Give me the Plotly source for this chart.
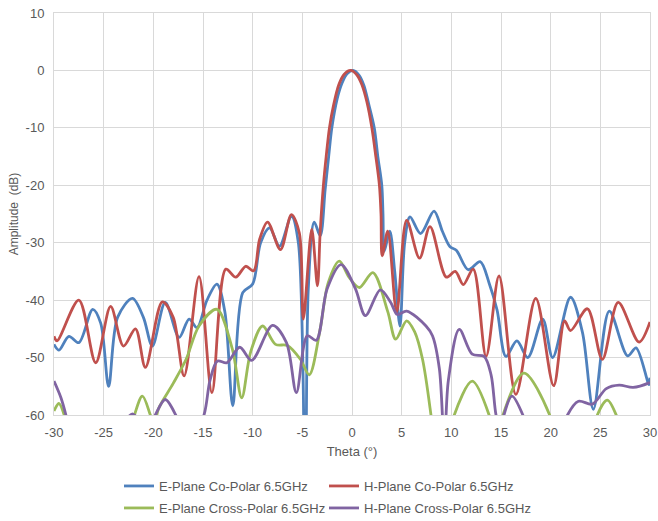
import plotly.graph_objects as go

# ---- data ----
e_co_theta = [-30, -29.5, -28.5, -27.5, -26.1, -25.3, -24.5, -23.6, -22.1, -21.0, -20.1, -18.8,
              -17.4, -16.4, -15.6, -14.6, -13.6, -12.8, -12.0, -11.0, -10.0, -9.2, -8.3, -7.3,
              -6.1, -5.4, -4.7, -4.4, -3.8, -3.2, -2.7, -2.35, -2.03, -1.5, -1.0, -0.5, 0.1, 0.7, 1.2,
              1.7, 2.24, 2.6, 3.0, 3.12, 3.25, 3.8, 4.3, 4.83, 5.3, 5.84, 6.9, 8.26, 9.1, 9.87, 10.5,
              11.7, 12.9, 13.8, 14.6, 15.5, 16.6, 17.7, 19.2, 20.2, 22.0, 23.2, 24.3, 25.9,
              27.75, 28.6, 29.9, 30]
e_co_db = [-47.7, -48.7, -46.3, -47.4, -41.6, -44.0, -55.0, -43.0, -39.7, -43.0, -48.0, -40.4,
           -46.5, -43.3, -44.8, -40.0, -37.2, -42.0, -58.4, -38.7, -37.2, -30.0, -27.4, -30.6,
           -25.4, -30.0, -75.0, -38.0, -26.4, -28.8, -20.7, -15.0, -10.0, -5.0, -2.2, -0.6, 0.0, -0.8, -2.6,
           -6.0, -10.0, -15.0, -20.0, -25.0, -31.5, -28.0, -35.0, -44.5, -30.0, -25.5, -28.4, -24.5, -28.0, -30.7, -31.3,
           -34.7, -33.3, -37.0, -41.7, -49.8, -47.1, -50.0, -43.3, -50.0, -39.5, -45.6, -59.0, -41.9,
           -49.7, -48.3, -54.7, -53.5]

h_co_theta = [-30, -29.7, -27.5, -25.8, -24.3, -23.0, -21.8, -20.8, -19.1, -18.0, -16.9, -15.4,
              -14.1, -12.7, -11.7, -10.7, -9.9, -9.3, -8.5, -7.2, -6.1, -5.3, -4.9, -4.05, -3.48,
              -3.2, -2.88, -2.6, -2.27, -1.85, -1.33, -0.8, -0.15, 0.5, 1.0, 1.5, 2.0, 2.4, 2.76, 2.92, 3.04,
              3.6, 4.5, 5.5, 6.8, 7.85, 9.5, 10.4, 11.2, 12.2, 13.5, 14.8, 16.5, 18.5, 20.3, 21.4,
              22.0, 23.7, 25.2, 26.8, 28.9, 30]
h_co_db = [-46.3, -47.1, -40.0, -50.9, -41.1, -48.0, -45.0, -51.7, -40.3, -43.0, -53.2, -35.9,
           -56.1, -34.6, -36.0, -34.1, -34.9, -29.4, -26.4, -31.2, -25.1, -28.3, -43.3, -27.7, -37.5,
           -28.0, -20.0, -15.0, -10.0, -6.0, -2.5, -0.7, 0.0, -0.8, -2.5, -5.5, -10.0, -15.0, -20.0, -25.0, -32.3,
           -28.0, -42.1, -26.1, -32.7, -27.2, -36.0, -35.0, -37.3, -34.6, -49.8, -35.8, -56.4, -39.7, -54.9, -43.6,
           -45.3, -41.5, -50.3, -40.4, -47.3, -43.8]

e_x_theta = [-30, -29.5, -28.8, -28.3, -25.0, -22.1, -21.1, -20.3, -19.9, -19.5, -18.0, -16.7,
             -15.4, -13.6, -12.05, -11.1, -10.2, -9.0, -7.7, -6.5, -5.2, -4.3, -3.2, -2.4, -1.28,
             -0.3, 0.74, 2.1, 3.6, 4.4, 5.5, 6.3, 7.1, 7.95, 8.5, 10.0, 10.3, 12.1, 13.8, 14.5,
             15.2, 17.3, 19.9, 21.0, 24.0, 24.7, 25.7, 26.6, 27.5, 30]
e_x_db = [-59.3, -58.0, -61.0, -65.0, -75.0, -61.0, -56.7, -60.0, -62.0, -59.0, -54.5, -50.3,
          -44.5, -41.6, -48.5, -57.0, -49.0, -44.5, -47.7, -47.9, -50.3, -53.0, -45.0, -37.0, -33.2,
          -36.0, -37.8, -35.2, -42.0, -46.8, -43.6, -45.5, -50.3, -60.0, -68.0, -63.0, -60.0, -54.1, -60.0, -66.0,
          -60.0, -52.7, -60.0, -68.0, -66.0, -60.0, -57.4, -60.0, -66.0, -70.0]

h_x_theta = [-30, -29.3, -28.8, -28.0, -25.0, -22.8, -22.1, -21.4, -20.5, -19.8, -18.8, -17.75,
             -16.5, -14.9, -14.3, -13.55, -12.6, -11.3, -10.1, -8.0, -6.6, -5.6, -4.5, -3.6, -2.5,
             -1.1, 0.34, 1.35, 2.85, 3.9, 4.56, 5.5, 7.45, 8.1, 8.8, 9.3, 9.7, 10.8, 12.1, 13.3,
             14.0, 14.5, 15.0, 15.3, 16.1, 17.2, 18.0, 21.0, 21.7, 22.8, 24.2, 25.6, 26.9, 28.3,
             29.9, 30]
h_x_db = [-54.1, -57.0, -60.0, -66.0, -70.0, -61.0, -59.8, -61.0, -63.0, -60.0, -57.3, -60.0,
          -66.0, -60.0, -54.0, -50.6, -50.9, -48.2, -50.5, -44.4, -47.4, -56.1, -46.2, -47.0, -38.0,
          -33.8, -38.0, -42.7, -38.2, -40.4, -42.5, -41.9, -44.5, -46.2, -52.0, -65.0, -54.0, -45.1, -49.4, -49.8,
          -53.0, -60.0, -63.0, -60.0, -56.7, -60.0, -65.0, -64.0, -60.0, -57.6, -58.1, -55.4, -54.8, -55.2,
          -54.4, -54.3]

series_names = ["E-Plane Co-Polar 6.5GHz", "H-Plane Co-Polar 6.5GHz",
                "E-Plane Cross-Polar 6.5GHz", "H-Plane Cross-Polar 6.5GHz"]
series_colors = ["#4F81BD", "#C0504D", "#9BBB59", "#8064A2"]
series_legends = ["legend", "legend2", "legend3", "legend4"]

x_ticks = [-30, -25, -20, -15, -10, -5, 0, 5, 10, 15, 20, 25, 30]
y_ticks = [10, 0, -10, -20, -30, -40, -50, -60]

xs = [e_co_theta, h_co_theta, e_x_theta, h_x_theta]
ys = [e_co_db, h_co_db, e_x_db, h_x_db]

FONT = "Liberation Sans, Arial, sans-serif"
TXT = "#595959"
GRID = "#D9D9D9"
W, H = 658, 521

fig = go.Figure()
for x, y, name, col, lg in zip(xs, ys, series_names, series_colors, series_legends):
    fig.add_trace(go.Scatter(x=x, y=y, name=name, mode="lines",
                             line=dict(color=col, width=2.8, shape="spline", smoothing=0.9),
                             legend=lg, cliponaxis=True))

legend_common = dict(orientation="h", xanchor="left", yanchor="middle",
                     xref="container", yref="container",
                     font=dict(family=FONT, size=13, color=TXT),
                     itemwidth=30, bgcolor="rgba(0,0,0,0)")

col1_px, col2_px = 119, 324
row1_px, row2_px = 486, 508

fig.update_layout(
    width=W, height=H,
    margin=dict(l=54, r=8, t=13, b=106, autoexpand=False),
    paper_bgcolor="white", plot_bgcolor="white",
    font=dict(family=FONT, size=13, color=TXT),
    showlegend=True,
    legend=dict(x=col1_px / W, y=1 - row1_px / H, **legend_common),
    legend2=dict(x=col2_px / W, y=1 - row1_px / H, **legend_common),
    legend3=dict(x=col1_px / W, y=1 - row2_px / H, **legend_common),
    legend4=dict(x=col2_px / W, y=1 - row2_px / H, **legend_common),
    xaxis=dict(range=[-30, 30], tickvals=x_ticks, ticktext=[str(v) for v in x_ticks],
               showgrid=True, gridcolor=GRID, gridwidth=1, zeroline=False,
               showline=True, linecolor=GRID, linewidth=1, mirror=True, ticks="",
               ticklabelstandoff=5, tickfont=dict(size=13, color=TXT),
               title=dict(text="Theta (°)", font=dict(size=13, color=TXT), standoff=8)),
    yaxis=dict(range=[-60, 10], tickvals=y_ticks, ticktext=[str(v) for v in y_ticks],
               showgrid=True, gridcolor=GRID, gridwidth=1, zeroline=False,
               showline=True, linecolor=GRID, linewidth=1, mirror=True, ticks="",
               ticklabelstandoff=6, tickfont=dict(size=13, color=TXT),
               title=dict(text="Amplitude  (dB)", font=dict(size=12, color=TXT), standoff=4)),
)

fig.write_html("out.html", config={"displayModeBar": False},
               post_script="document.body.style.margin='0';document.body.style.overflow='hidden';")
